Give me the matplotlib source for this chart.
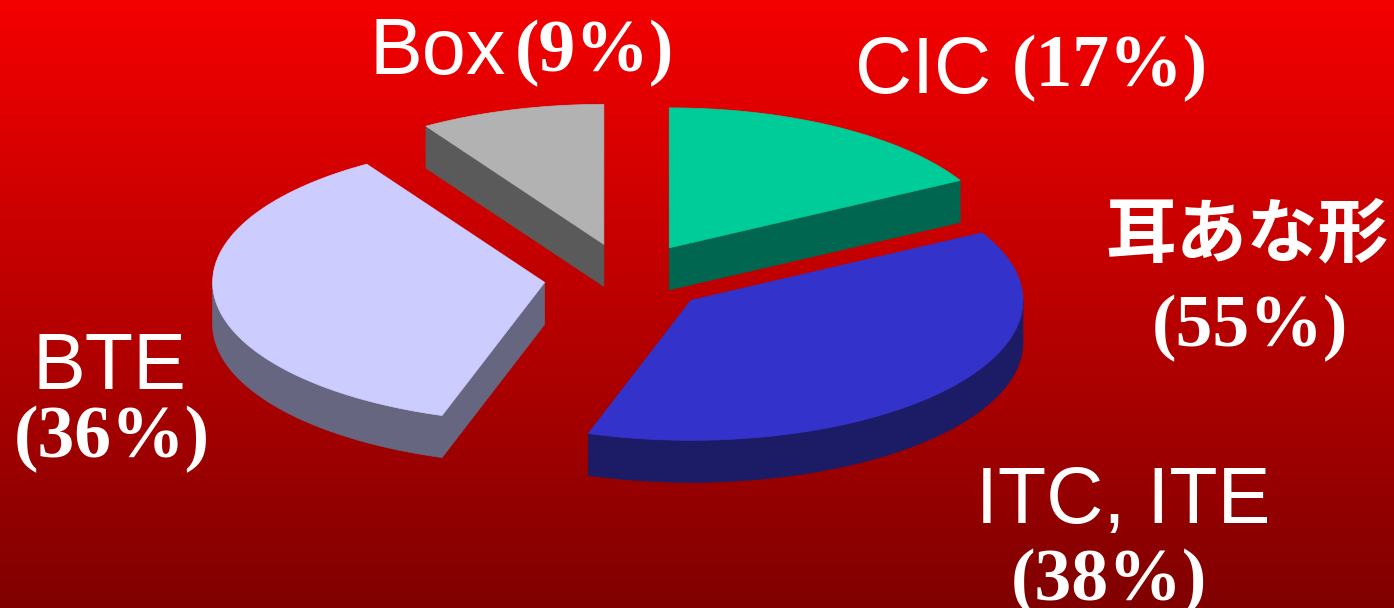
import numpy as np
import matplotlib
matplotlib.use("Agg")
import matplotlib.pyplot as plt
from matplotlib.patches import Polygon
from matplotlib.colors import LinearSegmentedColormap

# hearing aid types, market share in percent (clockwise from 12 o'clock)
labels = ["CIC", "ITC, ITE", "BTE", "Box"]
shares = [17, 38, 36, 9]
top_colors = ["#00CC99", "#3333CC", "#CCCCFF", "#B2B2B2"]
side_colors = ["#006650", "#1C1C66", "#666680", "#5A5A5A"]

# in-the-ear group = CIC + ITC/ITE
group_label = "耳あな形"
group_share = shares[0] + shares[1]

W, H = 1394, 608
cx, cy = 627, 278        # pie centre (pixels, y down)
rx, ry = 332, 140        # ellipse radii of the tilted pie
depth = 42               # thickness of the slab
explode = 0.25           # fraction of radius each slice is pulled out

fig = plt.figure(figsize=(W / 100, H / 100), dpi=100)
ax = fig.add_axes([0, 0, 1, 1])
ax.set_xlim(0, W)
ax.set_ylim(H, 0)
ax.axis("off")

# red vertical gradient background
bg = LinearSegmentedColormap.from_list("bg", ["#F50000", "#800000"])
ax.imshow(np.linspace(0, 1, 256).reshape(-1, 1), cmap=bg, aspect="auto",
          extent=(0, W, H, 0), zorder=0)


def pt(theta, ox, oy, dz=0.0):
    return (ox + rx * np.sin(theta), oy - ry * np.cos(theta) + dz)


# slice angles
bounds = np.concatenate([[0], np.cumsum(shares)]) / sum(shares) * 2 * np.pi
slices = []
for i in range(len(shares)):
    a0, a1 = bounds[i], bounds[i + 1]
    mid = (a0 + a1) / 2
    ox = cx + explode * rx * np.sin(mid)
    oy = cy - explode * ry * np.cos(mid)
    slices.append((oy, i, a0, a1, ox))

# back slices first
for oy, i, a0, a1, ox in sorted(slices):
    z = 2 + oy / 1000.0
    side = side_colors[i]
    # flat cut faces, drawn only when they face the viewer
    for a, sgn in ((a0, -1), (a1, 1)):
        normal = a + sgn * np.pi / 2
        if np.cos(normal) < -1e-6:
            p = pt(a, ox, oy)
            quad = [(ox, oy), p, (p[0], p[1] + depth), (ox, oy + depth)]
            ax.add_patch(Polygon(quad, closed=True, facecolor=side,
                                 edgecolor=side, lw=0.5, zorder=z))
    # curved outer wall on the front half
    lo, hi = max(a0, np.pi / 2), min(a1, 3 * np.pi / 2)
    if hi > lo:
        t = np.linspace(lo, hi, 120)
        top = [pt(a, ox, oy) for a in t]
        bot = [pt(a, ox, oy, depth) for a in t[::-1]]
        ax.add_patch(Polygon(top + bot, closed=True, facecolor=side,
                             edgecolor=side, lw=0.5, zorder=z))
    # top face
    t = np.linspace(a0, a1, 200)
    face = [(ox, oy)] + [pt(a, ox, oy) for a in t]
    ax.add_patch(Polygon(face, closed=True, facecolor=top_colors[i],
                         edgecolor=top_colors[i], lw=0.5, zorder=z + 0.0005))

sans = dict(family="Liberation Sans", color="white", fontsize=57)
serif = dict(family="Liberation Serif", weight="bold", color="white", fontsize=53)

ax.text(370, 74, labels[3], ha="left", va="baseline", **sans, zorder=10)
ax.text(515, 71, f"({shares[3]}%)", ha="left", va="baseline", **serif, zorder=10)

ax.text(855, 93, labels[0], ha="left", va="baseline", **sans, zorder=10)
ax.text(1012, 86, f"({shares[0]}%)", ha="left", va="baseline", **serif, zorder=10)

ax.text(1247, 235, group_label, ha="center", va="center", color="white",
        fontsize=51, family=["Noto Sans CJK JP", "DejaVu Sans"], weight="bold",
        zorder=10)
ax.text(1250, 346, f"({group_share}%)", ha="center", va="baseline", **serif,
        zorder=10)

ax.text(109, 389, labels[2], ha="center", va="baseline", **sans, zorder=10)
ax.text(112, 457, f"({shares[2]}%)", ha="center", va="baseline", **serif,
        zorder=10)

ax.text(1123, 523, labels[1], ha="center", va="baseline", **sans, zorder=10)
ax.text(1109, 600, f"({shares[1]}%)", ha="center", va="baseline", **serif,
        zorder=10)

fig.savefig("out.png", dpi=100)
